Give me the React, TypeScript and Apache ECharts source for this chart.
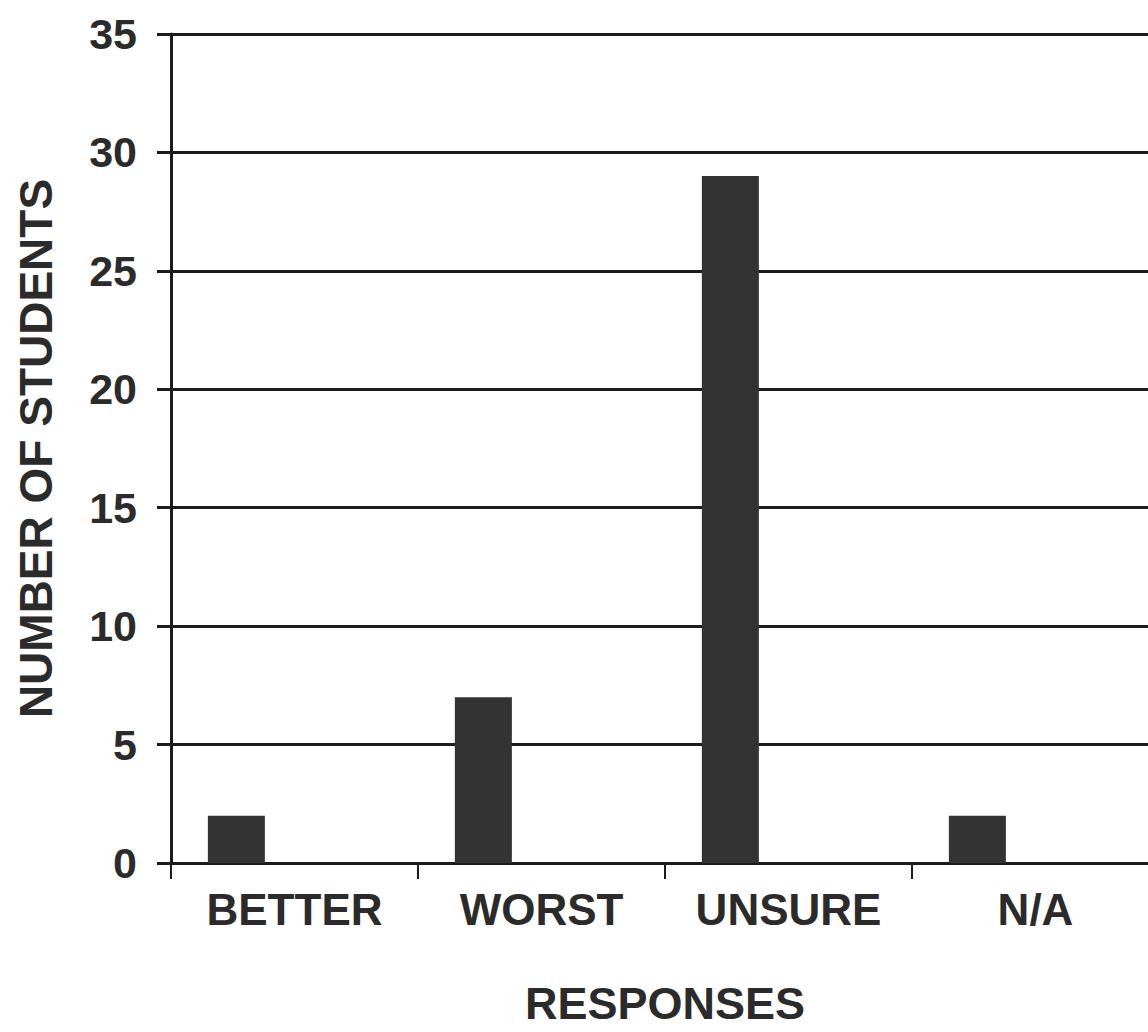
import React, { useEffect, useRef } from "react";
import * as echarts from "echarts";

// Survey responses and the number of students giving each one
const categories = ["BETTER", "WORST", "UNSURE", "N/A"];
const studentCounts = [2, 7, 29, 2];
// Empty companion series; keeps each bar in the left slot of its category
const emptySlot = ["-", "-", "-", "-"];

const yMin = 0;
const yMax = 35;
const yStep = 5;

const FONT = '"Liberation Sans", Arial, Helvetica, sans-serif';
const INK = "#2b2b2b";
const LINE = "#1c1c1c";

export default function App() {
  const ref = useRef<HTMLDivElement>(null);

  useEffect(() => {
    document.body.style.margin = "0";
    if (!ref.current) return;
    const chart = echarts.init(ref.current, undefined, { renderer: "svg" });
    chart.setOption({
      animation: false,
      backgroundColor: "#ffffff",
      grid: {
        left: 171,
        top: 34,
        width: 988,
        height: 829,
        outerBoundsMode: "none",
        containLabel: false,
      },
      xAxis: {
        type: "category",
        data: categories,
        name: "RESPONSES",
        nameLocation: "middle",
        nameGap: 118,
        nameTextStyle: { fontFamily: FONT, fontWeight: "bold", fontSize: 45, color: INK },
        axisLine: { show: true, lineStyle: { color: LINE, width: 3 } },
        axisTick: { show: true, alignWithLabel: false, length: 16, lineStyle: { color: LINE, width: 2 } },
        axisLabel: { fontFamily: FONT, fontWeight: "bold", fontSize: 44, color: INK, margin: 24 },
        splitLine: { show: false },
      },
      yAxis: {
        type: "value",
        min: yMin,
        max: yMax,
        interval: yStep,
        name: "NUMBER OF STUDENTS",
        nameLocation: "middle",
        nameGap: 112,
        nameTextStyle: { fontFamily: FONT, fontWeight: "bold", fontSize: 46, color: INK },
        axisLine: { show: true, lineStyle: { color: LINE, width: 3 } },
        axisTick: { show: true, length: 14, lineStyle: { color: LINE, width: 3 } },
        axisLabel: { fontFamily: FONT, fontWeight: "bold", fontSize: 43, color: INK, margin: 34 },
        splitLine: { show: true, lineStyle: { color: LINE, width: 3 } },
      },
      series: [
        {
          type: "bar",
          data: studentCounts,
          barWidth: 57,
          barGap: "104%",
          itemStyle: { color: "#333333" },
        },
        {
          type: "bar",
          data: emptySlot,
          barWidth: 57,
          itemStyle: { color: "#333333" },
        },
      ],
    });
    return () => chart.dispose();
  }, []);

  return (
    <div
      ref={ref}
      style={{ position: "absolute", left: 0, top: 0, width: 1148, height: 1032 }}
    />
  );
}
